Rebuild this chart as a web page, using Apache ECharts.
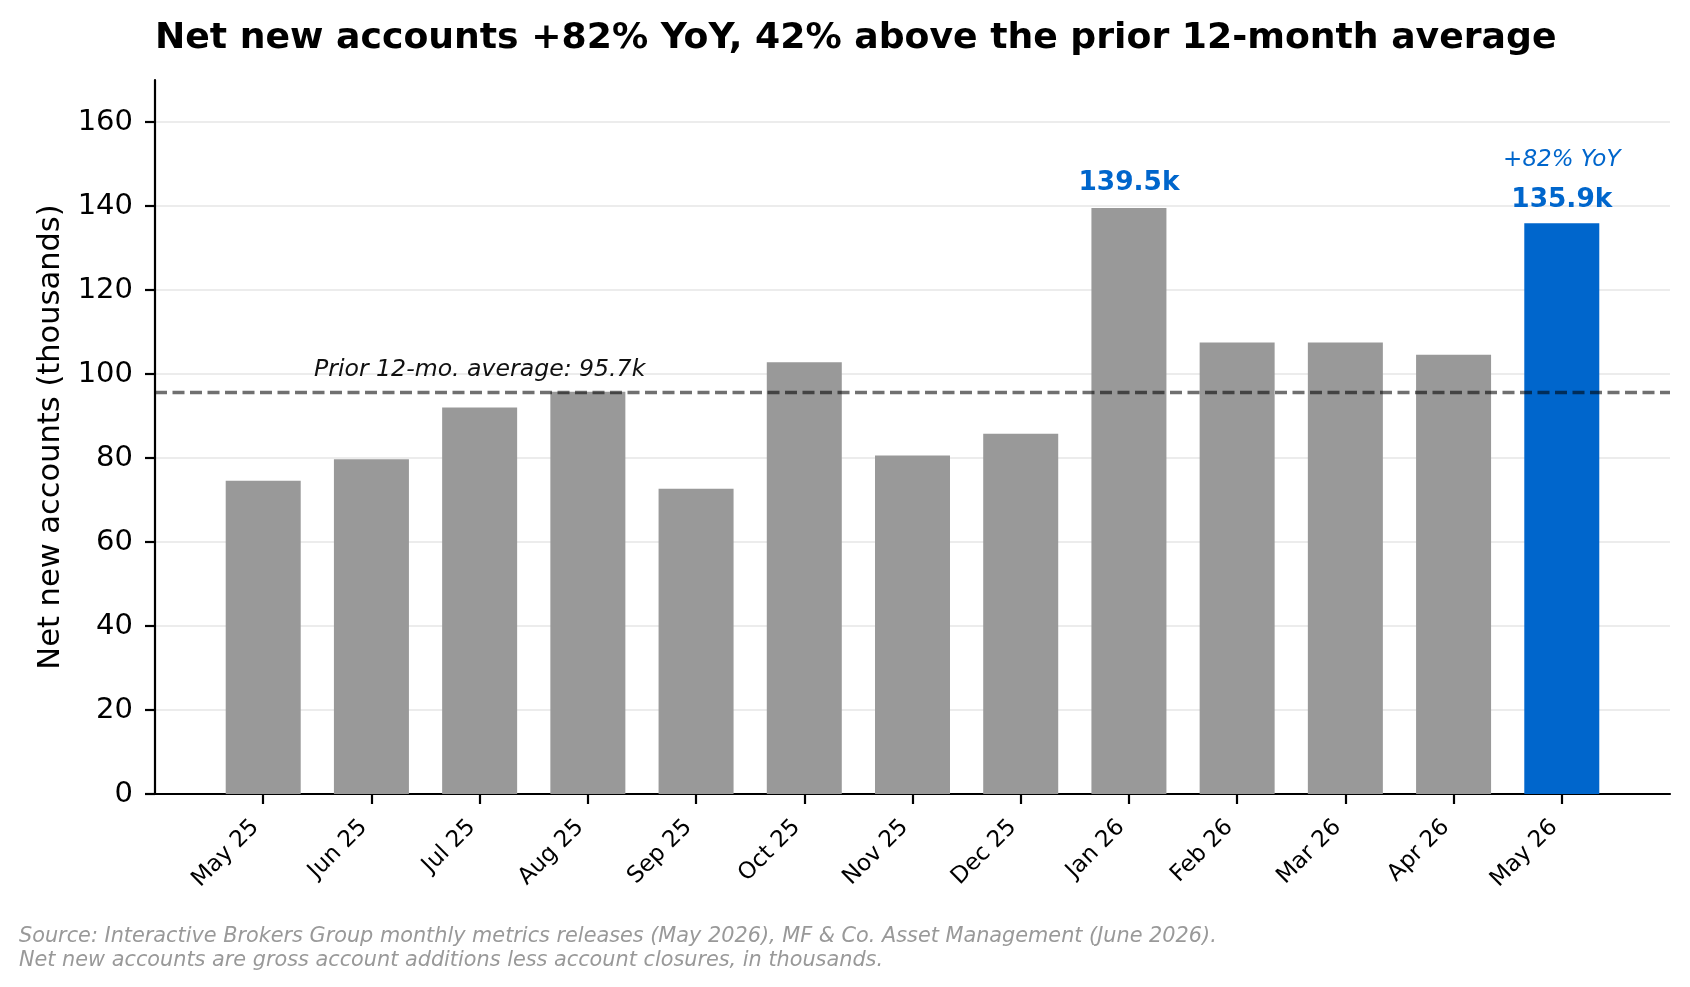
<!DOCTYPE html>
<html>
<head>
<meta charset="utf-8">
<script src="https://cdn.jsdelivr.net/npm/echarts@6/dist/echarts.min.js"></script>
<style>
  html, body { margin: 0; padding: 0; background: #fff; }
  #main { width: 1690px; height: 987px; }
</style>
</head>
<body>
<div id="main"></div>
<script>
// monthly net new accounts, thousands
var months = ['May 25', 'Jun 25', 'Jul 25', 'Aug 25', 'Sep 25', 'Oct 25', 'Nov 25',
              'Dec 25', 'Jan 26', 'Feb 26', 'Mar 26', 'Apr 26', 'May 26'];
var accounts = [74.6, 79.7, 92.0, 95.8, 72.7, 102.8, 80.6, 85.8, 139.5, 107.5, 107.5, 104.6, 135.9];
var priorAvg = 95.7;
var yTicks = [0, 20, 40, 60, 80, 100, 120, 140, 160];
var xTicks = months.map(function (m, i) { return i; });

var peakIdx = 8;     // Jan 26 labelled
var latestIdx = 12;  // May 26 highlighted

var FONT = 'DejaVu Sans';
var GREY = '#999999';
var BLUE = '#0066cc';

var yoy = Math.round((accounts[latestIdx] / accounts[0] - 1) * 100);

var barData = accounts.map(function (v, i) {
    var item = { value: [i, v] };
    if (i === latestIdx) {
        item.itemStyle = { color: BLUE };
        item.label = {
            show: true,
            position: 'top',
            distance: 8,
            formatter: '{a|+' + yoy + '% YoY}\n{b|' + v.toFixed(1) + 'k}',
            rich: {
                a: { fontFamily: FONT, fontSize: 23, fontStyle: 'italic', color: BLUE, lineHeight: 51 },
                b: { fontFamily: FONT, fontSize: 26.4, fontWeight: 'bold', color: BLUE, lineHeight: 30 }
            }
        };
    } else if (i === peakIdx) {
        item.label = {
            show: true,
            position: 'top',
            distance: 12,
            formatter: v.toFixed(1) + 'k',
            fontFamily: FONT, fontSize: 26.4, fontWeight: 'bold', color: BLUE
        };
    }
    return item;
});

var chartDom = document.getElementById('main');
var myChart = echarts.init(chartDom, null, { renderer: 'canvas' });
var option;

option = {
    animation: false,
    backgroundColor: '#fff',
    title: [{
        text: 'Net new accounts +' + yoy + '% YoY, 42% above the prior 12-month average',
        left: 150,
        top: 16,
        textStyle: { fontFamily: FONT, fontSize: 36.2, fontWeight: 'bold', color: '#000' }
    }, {
        text: 'Source: Interactive Brokers Group monthly metrics releases (May 2026), MF & Co. Asset Management (June 2026).\n' +
              'Net new accounts are gross account additions less account closures, in thousands.',
        left: 14,
        top: 920,
        textStyle: { fontFamily: FONT, fontSize: 20.8, fontWeight: 'normal', fontStyle: 'italic', color: '#999999', lineHeight: 24 }
    }],
    grid: { left: 155, right: 20, top: 80, bottom: 193 },
    xAxis: {
        type: 'value',
        min: -1,
        max: 13,
        interval: 1,
        splitLine: { show: false },
        axisLine: { show: true, onZero: false, lineStyle: { color: '#000', width: 2.2 } },
        axisTick: { show: true, length: 10, lineStyle: { color: '#000', width: 2.2 }, customValues: xTicks },
        axisLabel: {
            customValues: xTicks,
            rotate: 45,
            margin: 22,
            padding: [0, 11, 0, 0],
            fontFamily: FONT, fontSize: 23, color: '#000',
            formatter: function (v) { return months[v] || ''; }
        }
    },
    yAxis: {
        type: 'value',
        min: 0,
        max: 170,
        interval: 20,
        name: 'Net new accounts (thousands)',
        nameLocation: 'middle',
        nameGap: 88,
        nameTextStyle: { fontFamily: FONT, fontSize: 30.5, color: '#000' },
        axisLine: { show: true, onZero: false, lineStyle: { color: '#000', width: 2.2 } },
        axisTick: { show: true, length: 10, lineStyle: { color: '#000', width: 2.2 }, customValues: yTicks },
        axisLabel: { customValues: yTicks, margin: 22, fontFamily: FONT, fontSize: 29, color: '#000' },
        splitLine: { show: true, lineStyle: { color: '#e6e6e6', width: 1.5 } }
    },
    series: [{
        type: 'bar',
        barWidth: 75,
        data: barData,
        itemStyle: { color: GREY },
        markLine: {
            silent: true,
            symbol: 'none',
            label: { show: false },
            lineStyle: { type: [12, 5.5], color: 'rgba(0,0,0,0.56)', width: 3.3 },
            data: [{ yAxis: priorAvg }]
        },
        markPoint: {
            silent: true,
            symbol: 'circle',
            symbolSize: 1,
            itemStyle: { color: 'rgba(0,0,0,0)' },
            label: {
                show: true,
                position: 'inside',
                offset: [0, -22],
                fontFamily: FONT, fontSize: 23.6, fontStyle: 'italic', color: '#111',
                formatter: 'Prior 12-mo. average: ' + priorAvg.toFixed(1) + 'k'
            },
            data: [{ coord: [2, priorAvg] }]
        }
    }]
};

myChart.setOption(option);
</script>
</body>
</html>
